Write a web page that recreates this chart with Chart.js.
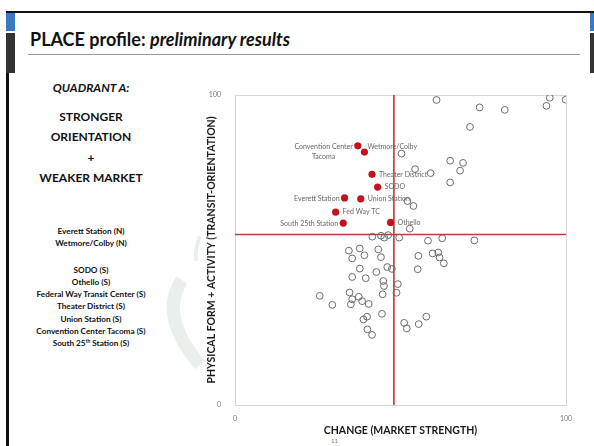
<!DOCTYPE html>
<html>
<head>
<meta charset="utf-8">
<script src="https://cdn.jsdelivr.net/npm/chart.js@4"></script>
<style>
  body { margin: 0; background: #fff; }
  #page { position: relative; width: 594px; height: 446px; overflow: hidden; background: #fff; font-family: Lato, sans-serif; }
  .abs { position: absolute; }
  #title { left: 30px; top: 28px; font-size: 18px; font-weight: bold; color: #111; white-space: nowrap; }
  #rule { left: 28px; top: 54px; width: 552px; height: 1px; background: #9a9a9a; }
  .side { left: 16px; width: 150px; text-align: center; color: #111; font-weight: bold; }
  .big { font-size: 12px; line-height: 20.5px; }
  .small { font-size: 8.2px; line-height: 12.3px; }
  sup { font-size: 5px; line-height: 0; vertical-align: 3px; }
  #wm { left: 150px; top: 225px; }
  canvas { position: absolute; left: 0; top: 0; }
</style>
</head>
<body>
<div id="page">
  <!-- slide frame -->
  <div class="abs" style="left:6px;top:11px;width:588px;height:2px;background:#111"></div>
  <div class="abs" style="left:6px;top:13px;width:9px;height:18px;background:#3a78c2"></div>
  <div class="abs" style="left:6px;top:33px;width:9px;height:40px;background:#333"></div>
  <div class="abs" style="left:6px;top:73px;width:3px;height:373px;background:#111"></div>
  <div class="abs" style="left:590px;top:13px;width:4px;height:18px;background:#3a78c2"></div>
  <div class="abs" style="left:590px;top:33px;width:4px;height:40px;background:#333"></div>

  <div id="title" class="abs">PLACE profile: <i>preliminary results</i></div>
  <div id="rule" class="abs"></div>

  <svg id="wm" class="abs" width="70" height="150">
    <path d="M50 11 Q45 24 46 36" stroke="#e9efeb" stroke-width="4" fill="none"/>
    <path d="M32 55 Q8 90 50 140" stroke="#e9efeb" stroke-width="13" fill="none"/>
  </svg>

  <div class="abs side" style="top:78px">
    <div class="big"><i>QUADRANT A:</i></div>
    <div class="big" style="margin-top:8px">STRONGER</div>
    <div class="big">ORIENTATION</div>
    <div class="big">+</div>
    <div class="big">WEAKER MARKET</div>
  </div>
  <div class="abs side small" style="top:225px">
    <div>Everett Station (N)</div>
    <div>Wetmore/Colby (N)</div>
    <div style="margin-top:14px">SODO (S)</div>
    <div>Othello (S)</div>
    <div>Federal Way Transit Center (S)</div>
    <div>Theater District (S)</div>
    <div>Union Station (S)</div>
    <div>Convention Center Tacoma (S)</div>
    <div>South 25<sup>th</sup> Station (S)</div>
  </div>
  <div class="abs" style="left:331px;top:437px;font-size:6px;color:#777">11</div>

  <canvas id="placeChart" width="594" height="446"></canvas>
</div>

<script>
// stations in quadrant A (highlighted)
const stationNames = [
  ['Convention Center', 'Tacoma'], ['Wetmore/Colby'], ['Theater District'], ['SODO'],
  ['Everett Station'], ['Union Station'], ['Fed Way TC'], ['South 25th Station'], ['Othello']
];
const stationX = [37.1, 39.1, 41.4, 43.1, 33.1, 38.0, 30.4, 32.7, 47.0];
const stationY = [83.6, 81.6, 74.4, 70.3, 66.8, 66.5, 62.2, 58.7, 58.9];
const labelSide = ['left', 'up', 'right', 'right', 'left', 'right', 'right', 'left', 'right'];

// all other stations
const otherX = [
  60.9, 95.1, 99.9, 94.1, 73.9, 81.5, 71.0, 50.3, 65.0, 68.9, 68.0, 54.4, 59.1, 65.0, 52.1, 53.9, 52.8,
  41.5, 44.1, 45.1, 46.3, 49.6, 58.3, 62.6, 72.3,
  34.4, 37.7, 35.4, 39.1, 43.3, 44.1, 55.4, 59.7, 61.4, 61.8, 63.1, 37.7, 46.0, 47.4, 55.2, 42.7,
  35.4, 39.5, 44.8, 45.0, 49.2, 48.8, 34.6, 44.6, 25.6, 35.4, 37.4, 38.4, 29.4, 35.0, 40.4, 44.4,
  57.8, 38.8, 39.9, 51.1, 55.5, 51.9, 40.0, 41.4
];
const otherY = [
  98.4, 99.1, 98.5, 96.5, 96.0, 95.2, 89.7, 81.1, 78.8, 78.1, 75.6, 76.1, 74.8, 71.8, 65.8, 64.2, 56.9,
  54.3, 54.6, 54.0, 54.8, 54.0, 53.0, 53.8, 53.1,
  49.8, 50.5, 47.3, 48.3, 50.2, 47.7, 48.1, 48.9, 49.2, 47.6, 45.7, 44.0, 44.5, 43.9, 43.8, 42.9,
  41.3, 40.9, 40.0, 38.4, 39.0, 36.2, 36.3, 35.7, 35.2, 34.1, 34.9, 33.5, 32.3, 32.5, 32.6, 29.4,
  28.5, 27.6, 28.5, 26.5, 26.1, 24.7, 24.4, 22.6
];

const xTicks = [0, 100];
const yTicks = [0, 100];
const splitX = 48;
const splitY = 55;

const red = '#c0141c';
const lineRed = '#c2393d';

const quadrantLines = {
  id: 'quadrantLines',
  beforeDatasetsDraw(chart) {
    const {ctx, chartArea: a, scales: {x, y}} = chart;
    ctx.save();
    ctx.strokeStyle = '#d6d6d6';
    ctx.lineWidth = 1;
    ctx.strokeRect(a.left + 0.5, a.top + 0.5, a.width, a.height);
    ctx.strokeStyle = lineRed;
    ctx.lineWidth = 1.6;
    const px = x.getPixelForValue(splitX);
    const py = y.getPixelForValue(splitY);
    ctx.beginPath();
    ctx.moveTo(px, a.top); ctx.lineTo(px, a.bottom);
    ctx.moveTo(a.left, py); ctx.lineTo(a.right, py);
    ctx.stroke();
    ctx.restore();
  },
  afterDatasetsDraw(chart) {
    const ctx = chart.ctx;
    const meta = chart.getDatasetMeta(1);
    ctx.save();
    ctx.font = '7px Lato';
    ctx.fillStyle = '#666';
    ctx.textBaseline = 'middle';
    meta.data.forEach((pt, i) => {
      const lines = stationNames[i];
      const side = labelSide[i];
      if (side === 'left') {
        const w = Math.max(...lines.map(l => ctx.measureText(l).width));
        ctx.textAlign = 'center';
        const cx = pt.x - 5 - w / 2;
        lines.forEach((l, k) => ctx.fillText(l, cx, pt.y + 1 + k * 10));
      } else if (side === 'up') {
        ctx.textAlign = 'left';
        ctx.fillText(lines[0], pt.x + 3, pt.y - 5);
      } else {
        ctx.textAlign = 'left';
        ctx.fillText(lines[0], pt.x + 7, pt.y);
      }
    });
    ctx.restore();
  }
};

const ctx = document.getElementById('placeChart').getContext('2d');
new Chart(ctx, {
  type: 'scatter',
  data: {
    datasets: [
      {
        label: 'Other stations',
        data: otherX.map((v, i) => ({x: v, y: otherY[i]})),
        pointRadius: 3.4,
        pointBackgroundColor: 'rgba(255,255,255,0)',
        pointBorderColor: '#6b6b6b',
        pointBorderWidth: 1
      },
      {
        label: 'Quadrant A',
        data: stationX.map((v, i) => ({x: v, y: stationY[i]})),
        pointRadius: 3.6,
        pointBackgroundColor: red,
        pointBorderColor: red,
        pointBorderWidth: 0
      }
    ]
  },
  options: {
    responsive: false,
    animation: false,
    layout: { padding: { left: 200, top: 95, right: 28, bottom: 5 } },
    plugins: { legend: { display: false }, tooltip: { enabled: false } },
    scales: {
      x: {
        min: 0, max: 100,
        afterFit(s) { s.height = 36; },
        afterBuildTicks(s) { s.ticks = xTicks.map(v => ({value: v})); },
        grid: { display: false },
        border: { display: false },
        ticks: { color: '#777', font: { family: 'Lato', size: 7 }, padding: 2 },
        title: { display: true, text: 'CHANGE (MARKET STRENGTH)', color: '#1a1a1a',
                 font: { family: 'Lato', size: 10.5, weight: 'bold' }, padding: { top: 0, bottom: 4 } }
      },
      y: {
        min: 0, max: 100,
        afterFit(s) { s.width = 35; },
        afterBuildTicks(s) { s.ticks = yTicks.map(v => ({value: v})); },
        grid: { display: false },
        border: { display: false },
        ticks: { color: '#777', font: { family: 'Lato', size: 7 }, padding: 6 },
        title: { display: true, text: 'PHYSICAL FORM + ACTIVITY (TRANSIT-ORIENTATION)', color: '#1a1a1a',
                 font: { family: 'Lato', size: 10.5, weight: 'bold' }, padding: { top: 5, bottom: 0 } }
      }
    }
  },
  plugins: [quadrantLines]
});
</script>
</body>
</html>
